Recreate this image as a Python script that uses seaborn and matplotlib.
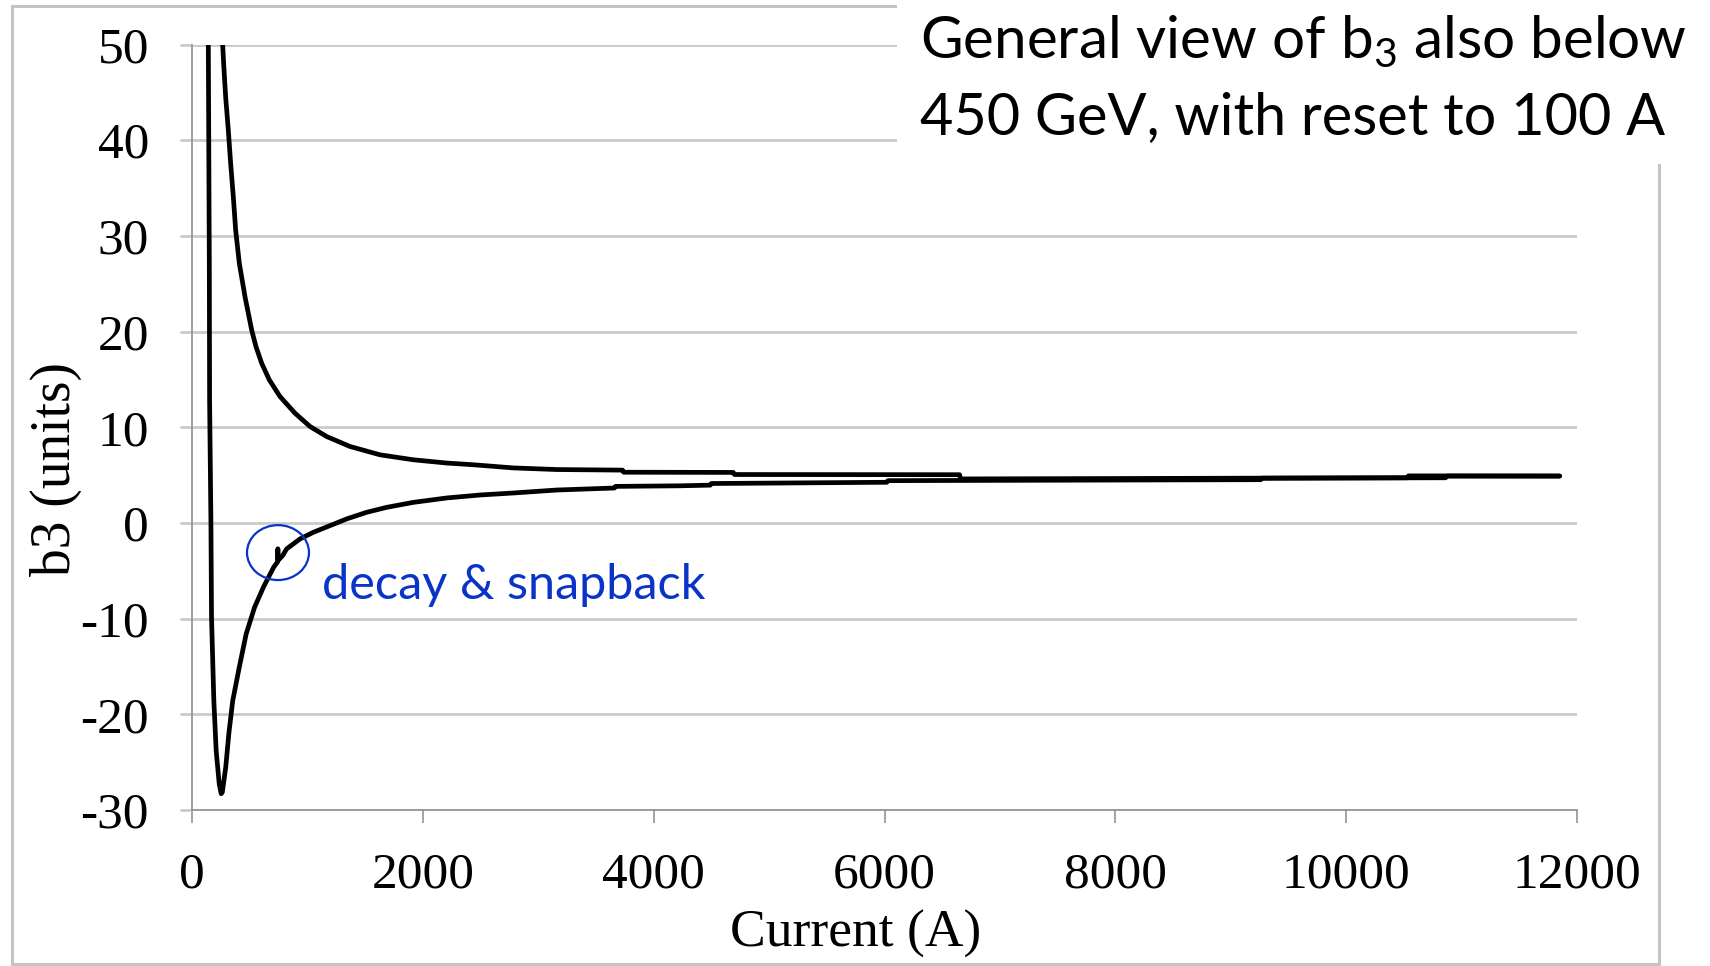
import matplotlib
matplotlib.use("Agg")
import matplotlib.pyplot as plt
from matplotlib.patches import Ellipse, Rectangle
import pandas as pd
import seaborn as sns

# b3 along the up-ramp that follows the reset to 100 A
current_up = [140, 141.4, 150, 152.5, 164, 169.2, 189.3, 209.4, 236.1, 252.8,
              262.5, 292.6, 319.3, 352.6, 409.3, 469.3, 542.6, 619.3, 709,
              740, 744, 748, 786, 820, 936, 1051, 1196, 1340, 1513, 1687,
              1918, 2207, 2495, 2784, 3160, 3660, 3670, 4228, 4490, 4500,
              6020, 6030, 9260, 9270, 10860, 10880, 11850]
b3_up = [52, 50, 27.1, 12.8, 0, -9.9, -18.6, -23.8, -27.3, -28.3,
         -28.15, -25.5, -22.0, -18.6, -15.1, -11.6, -8.8, -6.7, -4.6,
         -4.1, -2.7, -3.9, -3.4, -2.71, -1.67, -0.98, -0.28, 0.42, 1.11, 1.63,
         2.15, 2.61, 2.92, 3.13, 3.44, 3.65, 3.82, 3.88, 3.95, 4.12,
         4.25, 4.42, 4.52, 4.68, 4.72, 4.90, 4.90]

# b3 along the down-ramp from flat top
current_down = [11850, 10540, 10530, 6660, 6650, 4700, 4690, 3740, 3730, 3160,
                2784, 2437.5, 2206.5, 1917.6, 1628.8, 1368.9, 1166.8, 1022.4,
                892.4, 762.4, 670.0, 603.6, 554.5, 517.0, 459.2, 410.1, 378.3,
                358.1, 335.0, 314.8, 291.7, 274.3, 265.7, 262]
b3_down = [4.90, 4.92, 4.72, 4.60, 5.04, 5.06, 5.28, 5.30, 5.52, 5.58,
           5.75, 6.08, 6.26, 6.60, 7.12, 7.99, 9.03, 10.08,
           11.47, 13.21, 14.95, 16.69, 18.42, 20.16, 23.64, 27.12, 30.6,
           34.07, 37.55, 41.03, 44.5, 47.98, 50.0, 52]

x_ticks = [0, 2000, 4000, 6000, 8000, 10000, 12000]
y_ticks = [-30, -20, -10, 0, 10, 20, 30, 40, 50]

x_label = "Current (A)"
y_label = "b3 (units)"
title_lines = ["General view of $\\mathrm{b}_3$ also below",
               "450 GeV, with reset to 100 A"]
note_text = "decay & snapback"
snapback_current = 745
snapback_b3 = -3.1

W, H = 1710, 966
BLUE = "#0a34c8"
GRID = "#c8c8c8"

sns.set_theme(style="white")
plt.rcParams["font.family"] = ["Liberation Serif", "DejaVu Serif"]
plt.rcParams["mathtext.fontset"] = "custom"
plt.rcParams["mathtext.rm"] = "Lato"
plt.rcParams["mathtext.it"] = "Lato:italic"

fig = plt.figure(figsize=(W / 100, H / 100), dpi=100)
fig.patch.set_facecolor("white")

ax = fig.add_axes([192 / W, 1 - 810 / H, (1577 - 192) / W, (810 - 44.5) / H])
ax.set_facecolor("white")

df = pd.concat([
    pd.DataFrame({"current": current_up, "b3": b3_up, "branch": "up"}),
    pd.DataFrame({"current": current_down, "b3": b3_down, "branch": "down"}),
], ignore_index=True)

sns.lineplot(data=df, x="current", y="b3", units="branch", estimator=None,
             sort=False, color="black", linewidth=3.4, legend=False, ax=ax,
             solid_capstyle="round", solid_joinstyle="round")

ax.set_xlim(x_ticks[0], x_ticks[-1])
ax.set_ylim(y_ticks[0], y_ticks[-1])
ax.set_xticks(x_ticks)
ax.set_yticks(y_ticks)
ax.set_xticklabels([str(v) for v in x_ticks])
ax.set_yticklabels([str(v) for v in y_ticks])

ax.set_axisbelow(True)
ax.yaxis.grid(True, color=GRID, linewidth=1.9)
ax.xaxis.grid(False)

for side in ("top", "right"):
    ax.spines[side].set_visible(False)
for side in ("left", "bottom"):
    ax.spines[side].set_color("#8f8f8f")
    ax.spines[side].set_linewidth(1.2)

ax.tick_params(axis="y", which="major", direction="out", length=9, width=1.9,
               color=GRID, pad=22, labelsize=37, labelcolor="black", left=True)
ax.tick_params(axis="x", which="major", direction="out", length=9, width=1.4,
               color="#a3a3a3", pad=21, labelsize=37, labelcolor="black",
               bottom=True)

ax.set_xlabel(x_label, fontsize=38.5, color="black")
ax.set_ylabel(y_label, fontsize=40, color="black")
ax.xaxis.set_label_coords((856 - 192) / 1385, (810 - 910) / 765.5)
ax.yaxis.set_label_coords((82 - 192) / 1385, (810 - 469) / 765.5)

# snapback marker and note
ax.add_patch(Ellipse((snapback_current, snapback_b3), width=537, height=5.74,
                     fill=False, edgecolor=BLUE, linewidth=1.6, zorder=5))
ax.text(1126, -8.0, note_text, color=BLUE, fontsize=35, fontfamily="Lato",
        va="baseline", ha="left")

# outer frame of the chart area
fig.add_artist(Rectangle((12 / W, 1 - 964 / H), (1659 - 12) / W, (964 - 6) / H,
                         transform=fig.transFigure, fill=False,
                         edgecolor="#c4c4c4", linewidth=2.2, zorder=1))
# white panel carrying the heading
fig.add_artist(Rectangle((897 / W, 1 - 164 / H), 1, 164 / H,
                         transform=fig.transFigure, facecolor="white",
                         edgecolor="none", zorder=3))
fig.text(920 / W, 1 - 58 / H, title_lines[0], fontfamily="Lato", fontsize=42,
         color="black", va="baseline", ha="left", zorder=4)
fig.text(920 / W, 1 - 134 / H, title_lines[1], fontfamily="Lato", fontsize=41.5,
         color="black", va="baseline", ha="left", zorder=4)

fig.savefig("out.png", dpi=100, facecolor="white")
